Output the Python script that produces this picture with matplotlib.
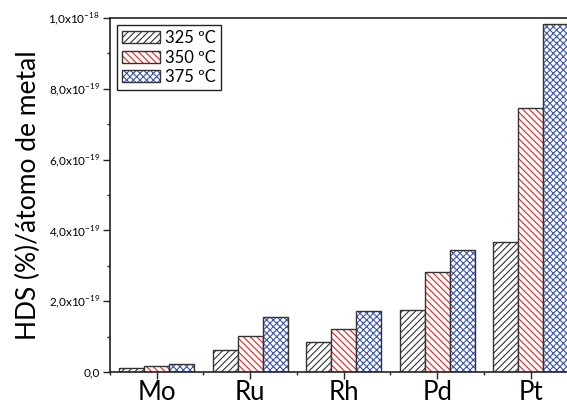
import numpy as np
import matplotlib
matplotlib.use('Agg')
import matplotlib.pyplot as plt
from matplotlib.patches import Patch
from matplotlib.legend_handler import HandlerTuple
from matplotlib.ticker import FuncFormatter, FixedLocator

plt.rcParams['font.family'] = ['Lato', 'DejaVu Sans']
plt.rcParams['mathtext.fontset'] = 'custom'
plt.rcParams['mathtext.rm'] = 'Lato'
plt.rcParams['hatch.linewidth'] = 0.8

# data
metals = ['Mo', 'Ru', 'Rh', 'Pd', 'Pt']
temps = ['325 ºC', '350 ºC', '375 ºC']
hds_325 = [1.1e-20, 6.1e-20, 8.4e-20, 1.74e-19, 3.68e-19]
hds_350 = [1.8e-20, 1.01e-19, 1.22e-19, 2.82e-19, 7.46e-19]
hds_375 = [2.2e-20, 1.55e-19, 1.72e-19, 3.45e-19, 9.84e-19]
yticks = [0, 2e-19, 4e-19, 6e-19, 8e-19, 1e-18]
yminor = [1e-19, 3e-19, 5e-19, 7e-19, 9e-19]

series = [hds_325, hds_350, hds_375]
hatch_cols = ['#333333', '#e8231f', '#3a55b5']
hatches = ['/////', '\\\\\\\\\\', 'xxxxx']
edge = '#333333'

fig = plt.figure(figsize=(5.67, 4.07), dpi=100)
ax = fig.add_axes([0.194, 0.086, 0.8245, 0.8698])

x = np.arange(1, len(metals) + 1)
w = 0.267
handles = []
for k in range(3):
    pos = x + (k - 1) * w
    ax.bar(pos, series[k], w, color='white', edgecolor=hatch_cols[k],
           hatch=hatches[k], linewidth=0)
    ax.bar(pos, series[k], w, fill=False, edgecolor=edge, linewidth=1.0)
    h1 = Patch(facecolor='white', edgecolor=hatch_cols[k], hatch=hatches[k], linewidth=0)
    h2 = Patch(fill=False, edgecolor=edge, linewidth=1.0)
    handles.append((h1, h2))

ax.set_xlim(0.5, 5.5)
ax.set_ylim(0, 1.0e-18)

ax.xaxis.set_major_locator(FixedLocator(x))
ax.xaxis.set_minor_locator(FixedLocator(np.arange(0.5, 6.0, 1.0)))
ax.set_xticklabels(metals, fontsize=18.5)
ax.yaxis.set_major_locator(FixedLocator(yticks))
ax.yaxis.set_minor_locator(FixedLocator(yminor))

def yfmt(v, pos):
    if abs(v) < 1e-25:
        return '0,0'
    e = int(np.floor(np.log10(abs(v)) + 1e-9))
    m = v / 10.0**e
    return ('%.1f' % m).replace('.', ',') + r'x10$^{\mathregular{%d}}$' % e

ax.yaxis.set_major_formatter(FuncFormatter(yfmt))
ax.tick_params(axis='both', which='major', direction='out', length=5, width=1.0,
               color='#222222')
ax.tick_params(axis='both', which='minor', direction='out', length=2.5, width=1.0,
               color='#222222')
ax.tick_params(axis='y', labelsize=8.5, pad=2)
ax.tick_params(axis='x', pad=1)
ax.tick_params(top=False, right=False)

for s in ['left', 'bottom', 'top']:
    ax.spines[s].set_linewidth(1.2)
    ax.spines[s].set_color('#222222')
ax.spines['right'].set_visible(False)

ax.set_ylabel('HDS (%)/átomo de metal', fontsize=19, labelpad=5)

leg = ax.legend(handles, temps, handler_map={tuple: HandlerTuple(ndivide=1, pad=0)},
                loc='upper left', bbox_to_anchor=(0.008, 0.99), fontsize=12,
                handlelength=2.3, handleheight=0.75, handletextpad=0.3,
                labelspacing=0.22, borderpad=0.3, borderaxespad=0.2,
                fancybox=False, framealpha=1)
leg.get_frame().set_edgecolor('#222222')
leg.get_frame().set_linewidth(1.0)

fig.savefig('out.png', dpi=100)
